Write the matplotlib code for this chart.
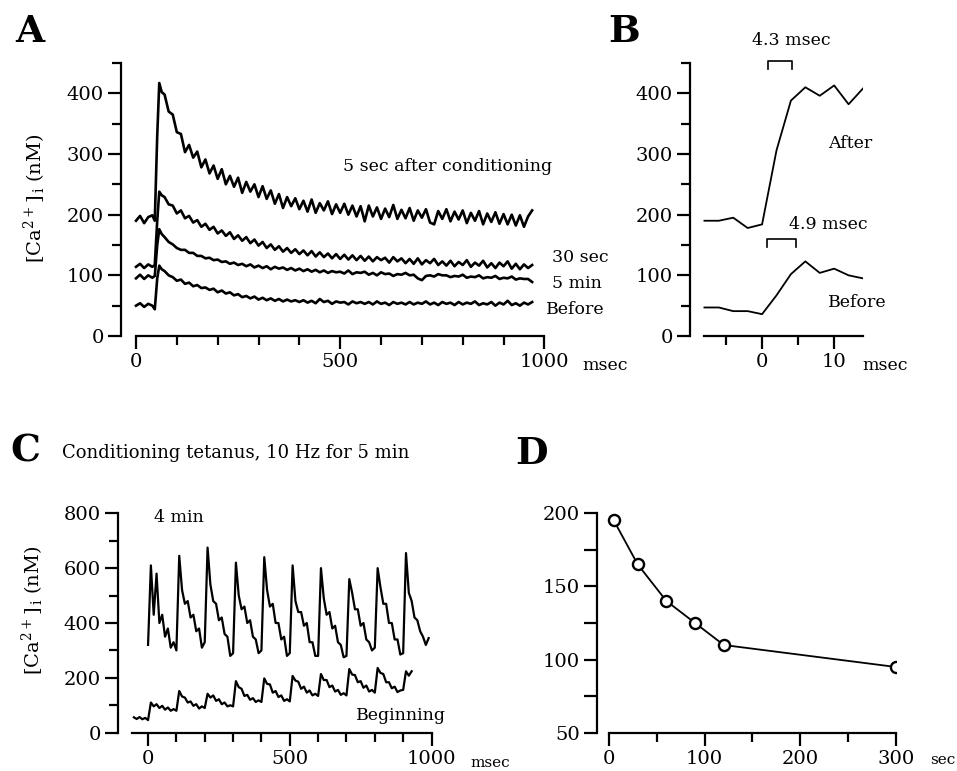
import numpy as np
import matplotlib.pyplot as plt

plt.rcParams['font.family'] = ['DejaVu Serif']
plt.rcParams['mathtext.fontset'] = 'dejavuserif'

# ---------------- data ----------------
# A: averaged Ca transients (msec, nM)
t_a = [0, 10, 20, 30, 40, 46, 52, 57, 63] + list(range(70, 980, 10))
ca_5sec = [190, 198, 186, 196, 199, 190, 330, 417, 402,
           398, 370, 365, 336, 333, 303, 315, 294, 304, 278,
           291, 268, 281, 259, 275, 250, 264, 246, 261, 236,
           254, 238, 250, 229, 247, 226, 240, 218, 234, 211,
           229, 214, 227, 209, 223, 205, 225, 203, 219, 207,
           222, 201, 217, 203, 218, 200, 215, 197, 214, 189,
           215, 197, 212, 193, 210, 196, 216, 193, 208, 194,
           211, 190, 207, 195, 209, 187, 184, 206, 193, 209,
           189, 205, 192, 207, 186, 203, 190, 206, 184, 202,
           188, 204, 185, 201, 184, 200, 182, 199, 180, 197,
           207]
ca_30sec = [114, 119, 112, 118, 114, 117, 190, 238, 232,
            229, 217, 215, 202, 207, 194, 198, 187, 191, 180,
            185, 175, 180, 169, 174, 165, 171, 160, 166, 157,
            163, 153, 159, 149, 155, 145, 151, 142, 148, 139,
            145, 137, 143, 135, 141, 133, 140, 131, 138, 130,
            136, 128, 135, 127, 134, 126, 133, 125, 132, 124,
            131, 123, 130, 125, 129, 121, 130, 123, 128, 120,
            127, 119, 128, 118, 125, 120, 127, 117, 123, 116,
            124, 115, 122, 117, 125, 114, 121, 116, 124, 113,
            120, 112, 121, 115, 123, 111, 119, 110, 118, 112,
            117]
ca_5min = [95, 101, 94, 100, 96, 99, 150, 176, 168,
           163, 155, 151, 145, 142, 142, 137, 137, 132, 132,
           128, 129, 125, 126, 122, 123, 119, 121, 117, 119,
           115, 118, 113, 116, 112, 115, 110, 114, 111, 113,
           109, 112, 108, 111, 107, 110, 106, 109, 105, 108,
           104, 107, 105, 106, 103, 108, 102, 105, 104, 106,
           101, 104, 100, 105, 102, 103, 99, 102, 101, 104,
           100, 101, 95, 92, 99, 100, 98, 102, 100, 100,
           97, 99, 98, 101, 96, 98, 97, 100, 95, 97,
           96, 99, 94, 96, 95, 98, 93, 95, 94, 94,
           89]
ca_before = [50, 54, 48, 53, 50, 44, 95, 116, 110,
             107, 100, 97, 91, 93, 86, 88, 82, 84, 79,
             80, 76, 78, 72, 75, 70, 72, 67, 69, 64,
             66, 62, 65, 60, 63, 59, 62, 58, 61, 57,
             60, 57, 59, 56, 59, 55, 58, 54, 61, 56,
             58, 53, 57, 55, 56, 52, 57, 54, 56, 53,
             56, 52, 57, 53, 55, 51, 56, 53, 55, 52,
             56, 52, 55, 53, 57, 52, 55, 51, 56, 53,
             55, 51, 56, 52, 55, 53, 57, 51, 54, 52,
             56, 50, 55, 52, 58, 51, 54, 50, 55, 52,
             56]

# B: rising phase, expanded time scale
t_b = [-8, -6, -4, -2, 0, 2, 4, 6, 8, 10, 12, 14]
b_after = [190, 190, 195, 178, 184, 306, 388, 410, 396, 413, 382, 408]
b_before = [47, 47, 41, 41, 36, 67, 102, 123, 104, 111, 100, 95]

# C: during the conditioning tetanus
t_c4 = list(range(0, 1000, 10))
c_4min = [320, 610, 430, 580, 400, 430, 350, 380, 310, 330,
          300, 645, 520, 470, 480, 420, 430, 370, 380, 310,
          330, 675, 540, 480, 470, 410, 420, 360, 350, 280,
          290, 620, 500, 450, 460, 400, 410, 350, 340, 290,
          300, 640, 520, 460, 470, 400, 400, 340, 350, 280,
          290, 610, 480, 440, 440, 390, 400, 330, 330, 280,
          280, 600, 490, 430, 440, 380, 390, 330, 320, 275,
          280, 560, 510, 450, 450, 390, 400, 340, 330, 300,
          310, 600, 530, 470, 470, 400, 400, 340, 340, 285,
          290, 655, 510, 480, 420, 410, 370, 350, 320, 345]
t_cb = list(range(-50, 940, 10))
c_begin = [56, 50, 57, 49, 54,
           46, 110, 96, 104, 90, 98, 84, 92, 80, 86,
           80, 152, 132, 128, 110, 114, 98, 104, 88, 96,
           90, 142, 128, 136, 116, 122, 104, 110, 96, 100,
           96, 188, 166, 160, 134, 138, 120, 126, 112, 118,
           112, 198, 178, 176, 146, 152, 130, 136, 116, 122,
           114, 207, 190, 186, 160, 168, 146, 154, 136, 142,
           134, 214, 192, 192, 166, 172, 150, 156, 138, 144,
           136, 232, 212, 210, 184, 188, 164, 172, 150, 156,
           146, 236, 218, 214, 184, 184, 162, 168, 148, 154,
           156, 224, 208, 224]

# D: peak amplitude vs time after conditioning (sec, nM)
t_d = [5, 30, 60, 90, 120, 300]
d_peak = [195, 165, 140, 125, 110, 95]

# ---------------- figure ----------------
W, H = 957, 771
fig = plt.figure(figsize=(W / 100, H / 100), dpi=100)


def rect(l, r, t, b):
    return [l / W, 1 - b / H, (r - l) / W, (b - t) / H]


def style(ax, xb, yb):
    ax.spines['top'].set_visible(False)
    ax.spines['right'].set_visible(False)
    for s in ['left', 'bottom']:
        ax.spines[s].set_linewidth(1.6)
    ax.spines['bottom'].set_bounds(*xb)
    ax.spines['left'].set_bounds(*yb)
    ax.tick_params(which='major', length=9.5, width=1.6, labelsize=14, pad=3)
    ax.tick_params(which='minor', length=6.5, width=1.6)


lab = r'[Ca$^{2+}$]$_{\,\mathrm{i}}$ (nM)'

# A
axA = fig.add_axes(rect(121, 544.4, 63, 336))
for y in [ca_5sec, ca_30sec, ca_5min, ca_before]:
    axA.plot(t_a, y, color='black', lw=1.9)
axA.set_xlim(-36.7, 1000)
axA.set_ylim(0, 450)
axA.set_xticks([0, 500, 1000])
axA.set_xticks(range(100, 1000, 100), minor=True)
axA.set_yticks([0, 100, 200, 300, 400])
axA.set_yticks([50, 150, 250, 350, 450], minor=True)
style(axA, (0, 1000), (0, 450))
axA.text(506, 280, '5 sec after conditioning', fontsize=12.5, va='center')
axA.text(1019, 130, '30 sec', fontsize=12.5, va='center', clip_on=False)
axA.text(1019, 87, '5 min', fontsize=12.5, va='center', clip_on=False)
axA.text(1004, 43, 'Before', fontsize=12.5, va='center', clip_on=False)
fig.text(582 / W, 1 - 366 / H, 'msec', fontsize=12.5, va='center')
fig.text(35 / W, 1 - 198 / H, lab, fontsize=14, rotation=90, ha='center', va='center')

# B
axB = fig.add_axes(rect(690, 863, 63, 336))
axB.plot(t_b, b_after, color='black', lw=1.3)
axB.plot(t_b, b_before, color='black', lw=1.3)
axB.set_xlim(-10, 14)
axB.set_ylim(0, 450)
axB.set_xticks([0, 10])
axB.set_xticks([-5, 5], minor=True)
axB.set_yticks([0, 100, 200, 300, 400])
axB.set_yticks([50, 150, 250, 350, 450], minor=True)
style(axB, (-8, 14), (0, 450))
axB.plot([0.8, 0.8, 4.2, 4.2], [440, 453, 453, 440], color='black', lw=1.2, clip_on=False)
axB.text(4.0, 487, '4.3 msec', fontsize=12.5, ha='center', va='center')
axB.plot([0.7, 0.7, 4.7, 4.7], [146, 160, 160, 146], color='black', lw=1.2, clip_on=False)
axB.text(9.2, 183, '4.9 msec', fontsize=12.5, ha='center', va='center')
axB.text(9.2, 317, 'After', fontsize=12.5, va='center')
axB.text(9.2, 55, 'Before', fontsize=12.5, va='center')
fig.text(862 / W, 1 - 366 / H, 'msec', fontsize=12.5, va='center')

# C
axC = fig.add_axes(rect(118, 431.5, 513.3, 732.7))
axC.plot(t_c4, c_4min, color='black', lw=1.6)
axC.plot(t_cb, c_begin, color='black', lw=1.6)
axC.set_xlim(-106, 1000)
axC.set_ylim(0, 800)
axC.set_xticks([0, 500, 1000])
axC.set_xticks(range(100, 1000, 100), minor=True)
axC.set_yticks([0, 200, 400, 600, 800])
axC.set_yticks([100, 300, 500, 700], minor=True)
style(axC, (-56, 1000), (0, 800))
axC.text(20, 783, '4 min', fontsize=12.5, va='center')
axC.text(1052, 64, 'Beginning', fontsize=12.5, ha='right', va='center')
fig.text(470 / W, 1 - 763 / H, 'msec', fontsize=11, va='center')
fig.text(33 / W, 1 - 610 / H, lab, fontsize=14, rotation=90, ha='center', va='center')
fig.text(62 / W, 1 - 453 / H, 'Conditioning tetanus, 10 Hz for 5 min', fontsize=13, va='center')

# D
axD = fig.add_axes(rect(597, 896, 513, 733))
axD.plot(t_d, d_peak, color='black', lw=1.3, marker='o', ms=8,
         mfc='white', mec='black', mew=1.7)
axD.set_xlim(-12.5, 300)
axD.set_ylim(50, 200)
axD.set_xticks([0, 100, 200, 300])
axD.set_xticks([50, 150, 250], minor=True)
axD.set_yticks([50, 75, 100, 125, 150, 175, 200])
axD.set_yticklabels(['50', '', '100', '', '150', '', '200'])
style(axD, (0, 300), (50, 200))
fig.text(930 / W, 1 - 760 / H, 'sec', fontsize=11, va='center')

# panel letters
for x, y, s in [(15, 13, 'A'), (608, 13, 'B'), (10, 433, 'C'), (515, 435, 'D')]:
    fig.text(x / W, 1 - y / H, s, fontsize=27, fontweight='bold', va='top')

fig.savefig('out.png', dpi=100)
